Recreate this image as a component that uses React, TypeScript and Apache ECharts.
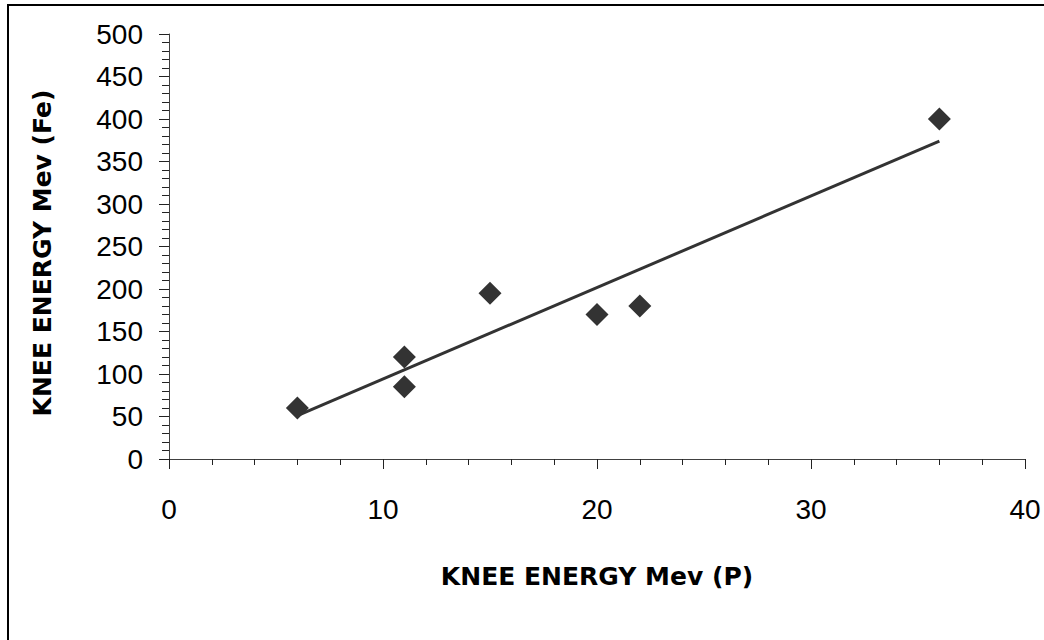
import React, { useEffect, useRef } from "react";
import * as echarts from "echarts";

const pointX = [6, 11, 11, 15, 20, 22, 36];
const pointY = [60, 120, 85, 195, 170, 180, 400];
const trendX = [6, 36];
const trendY = [51, 374];
const xTitle = "KNEE ENERGY Mev (P)";
const yTitle = "KNEE ENERGY Mev (Fe)";

export default function App() {
  const ref = useRef<HTMLDivElement>(null);
  useEffect(() => {
    if (!ref.current) return;
    const chart = echarts.init(ref.current, null, { renderer: "svg" });
    const tickFont = { fontFamily: "Liberation Sans, Arial, sans-serif", fontSize: 28, color: "#000" };
    chart.setOption({
      animation: false,
      backgroundColor: "#fff",
      grid: { left: 169, right: 19, top: 34, bottom: 181, containLabel: false },
      xAxis: {
        type: "value",
        min: 0,
        max: 40,
        interval: 10,
        axisLine: { show: true, lineStyle: { color: "#404040", width: 1 } },
        axisTick: { show: true, length: 10, lineStyle: { color: "#222", width: 1 } },
        minorTick: { show: true, splitNumber: 5, length: 6, lineStyle: { color: "#222", width: 1 } },
        splitLine: { show: false },
        axisLabel: { ...tickFont, margin: 36 },
      },
      yAxis: {
        type: "value",
        min: 0,
        max: 500,
        interval: 50,
        axisLine: { show: true, lineStyle: { color: "#404040", width: 1 } },
        axisTick: { show: true, length: 10, lineStyle: { color: "#222", width: 1 } },
        minorTick: { show: true, splitNumber: 5, length: 7, lineStyle: { color: "#222", width: 1 } },
        splitLine: { show: false },
        axisLabel: { ...tickFont, margin: 26 },
      },
      graphic: [
        {
          type: "rect",
          shape: { x: 8, y: 5, width: 1100, height: 700 },
          style: { fill: "none", stroke: "#000", lineWidth: 2 },
          silent: true,
          z: 100,
        },
        {
          type: "text",
          x: 597,
          y: 576,
          style: {
            text: xTitle,
            fontFamily: "DejaVu Sans",
            fontWeight: "bold",
            fontSize: 25,
            fill: "#000",
            textAlign: "center",
            textVerticalAlign: "middle",
          },
        },
        {
          type: "text",
          x: 42,
          y: 253,
          rotation: Math.PI / 2,
          style: {
            text: yTitle,
            fontFamily: "DejaVu Sans",
            fontWeight: "bold",
            fontSize: 25,
            fill: "#000",
            textAlign: "center",
            textVerticalAlign: "middle",
          },
        },
      ],
      series: [
        {
          type: "line",
          data: trendX.map((x, i) => [x, trendY[i]]),
          symbol: "none",
          lineStyle: { color: "#333", width: 3 },
          z: 2,
        },
        {
          type: "scatter",
          data: pointX.map((x, i) => [x, pointY[i]]),
          symbol: "diamond",
          symbolSize: 23,
          itemStyle: { color: "#333", opacity: 1 },
          z: 3,
        },
      ],
    });
    return () => chart.dispose();
  }, []);
  return (
    <div
      ref={ref}
      style={{ position: "absolute", left: 0, top: 0, width: 1044, height: 640 }}
    />
  );
}
